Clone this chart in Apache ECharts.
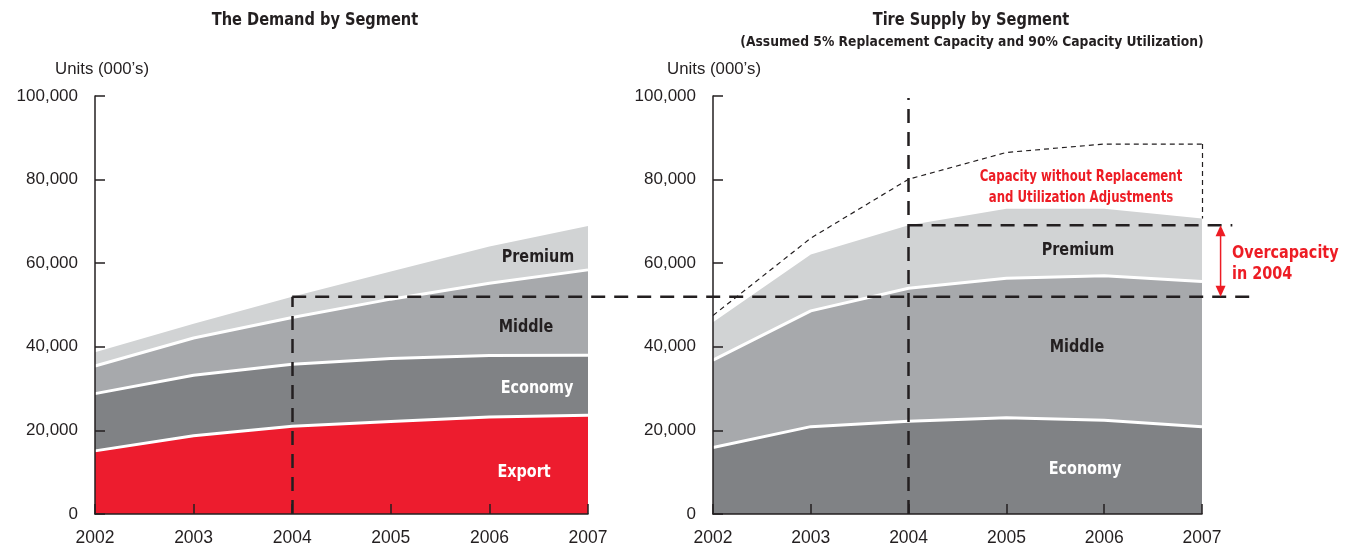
<!DOCTYPE html>
<html><head><meta charset="utf-8">
<script src="https://cdn.jsdelivr.net/npm/echarts@6/dist/echarts.min.js"></script>
<style>html,body{margin:0;padding:0;background:#fff}#c{width:1351px;height:552px}</style>
</head><body><div id="c"></div>
<script>
// ---- data ----
const years = ['2002','2003','2004','2005','2006','2007'];
const yMin = 0, yMax = 100000, yStep = 20000;
// Demand by segment (segment sizes, stacked)
const demandExport  = [15100, 18700, 21000, 22100, 23200, 23600];
const demandEconomy = [13700, 14500, 14800, 15100, 14700, 14400];
const demandMiddle  = [ 6600,  8900, 11200, 14200, 17300, 20400];
const demandPremium = [ 3300,  3400,  5000,  6600,  8800, 10500];
// Supply by segment (segment sizes, stacked)
const supplyEconomy = [15900, 20900, 22200, 23000, 22400, 20900];
const supplyMiddle  = [20900, 27700, 31800, 33400, 34600, 34700];
const supplyPremium = [ 9100, 13500, 15100, 16600, 16000, 15100];
// Capacity without replacement and utilization adjustments
const capacityRaw   = [47500, 66000, 80100, 86500, 88500, 88500];
const refYear = '2004';

const RED = '#ED1C24', DARK = '#231f20';
const C_EXPORT = '#ED1C2E', C_ECON = '#808285', C_MID = '#A7A9AC', C_PREM = '#D1D3D4';
const NARROW = "'DejaVu Sans Condensed','Liberation Sans Narrow',sans-serif";
const REG = "'Liberation Sans',Arial,sans-serif";

const sumAt = (arrs, i) => arrs.reduce((s, a) => s + a[i], 0);
const demandTotal = years.map((_, i) => sumAt([demandExport, demandEconomy, demandMiddle, demandPremium], i));
const supplyTotal = years.map((_, i) => sumAt([supplyEconomy, supplyMiddle, supplyPremium], i));
const refIdx = years.indexOf(refYear);
const demandRef = demandTotal[refIdx];
const supplyRef = supplyTotal[refIdx];
const lastYear = years[years.length - 1];

const chart = echarts.init(document.getElementById('c'));

function yAxis(gi) {
  return {
    type: 'value', gridIndex: gi, min: yMin, max: yMax, interval: yStep, z: 10,
    axisLine: { show: true, lineStyle: { color: DARK, width: 1.5 } },
    axisTick: { show: true, inside: true, length: 10, lineStyle: { color: DARK, width: 1.5 } },
    axisLabel: { color: DARK, fontFamily: REG, fontSize: 17, margin: 17,
      formatter: v => v.toLocaleString('en-US') },
    splitLine: { show: false }
  };
}
function xAxis(gi) {
  return {
    type: 'category', gridIndex: gi, data: years, boundaryGap: false, z: 10,
    axisLine: { show: true, lineStyle: { color: DARK, width: 1.5 } },
    axisTick: { show: true, inside: true, length: 10, alignWithLabel: true, lineStyle: { color: DARK, width: 1.5 } },
    axisLabel: { color: DARK, fontFamily: REG, fontSize: 17.5, margin: 15 }
  };
}
function area(name, data, color, gi, stack, z, line) {
  return {
    name, type: 'line', xAxisIndex: gi, yAxisIndex: gi, stack, data, z,
    symbol: 'none', smooth: false,
    lineStyle: line ? { color: '#fff', width: 3 } : { width: 0 },
    areaStyle: { color, opacity: 1 }
  };
}
const bigDash = { color: DARK, width: 2.5, type: [14, 9] };

chart.setOption({
  animation: false,
  grid: [
    { left: 95, right: 763, top: 96, bottom: 38 },
    { left: 713, right: 149, top: 96, bottom: 38 }
  ],
  xAxis: [xAxis(0), xAxis(1)],
  yAxis: [yAxis(0), yAxis(1)],
  series: [
    Object.assign(area('Export', demandExport, C_EXPORT, 0, 'd', 6, true), {
      markLine: { silent: true, symbol: 'none', label: { show: false }, lineStyle: bigDash, z: 9,
        data: [[{ coord: [refYear, 0] }, { coord: [refYear, demandRef] }]] }
    }),
    area('Economy', demandEconomy, C_ECON, 0, 'd', 5, true),
    area('Middle', demandMiddle, C_MID, 0, 'd', 4, true),
    area('Premium', demandPremium, C_PREM, 0, 'd', 3, false),
    area('Economy', supplyEconomy, C_ECON, 1, 's', 5, true),
    area('Middle', supplyMiddle, C_MID, 1, 's', 4, true),
    Object.assign(area('Premium', supplyPremium, C_PREM, 1, 's', 3, false), {
      markLine: { silent: true, symbol: 'none', label: { show: false }, lineStyle: bigDash, z: 9,
        data: [[{ coord: [refYear, 0] }, { coord: [refYear, 99500] }]] }
    }),
    {
      name: 'Capacity', type: 'line', xAxisIndex: 1, yAxisIndex: 1, data: capacityRaw, z: 7,
      symbol: 'none', lineStyle: { color: DARK, width: 1.2, type: [5, 4] },
      markLine: { silent: true, symbol: 'none', label: { show: false },
        lineStyle: { color: DARK, width: 1.2, type: [5, 4] },
        data: [[{ coord: [lastYear, capacityRaw[capacityRaw.length - 1]] },
                { coord: [lastYear, supplyTotal[supplyTotal.length - 1]] }]] }
    }
  ]
});

// pixel positions from the library's own scales
const pL = chart.convertToPixel({ gridIndex: 0 }, [refYear, demandRef]);
const pR2007 = chart.convertToPixel({ gridIndex: 1 }, [lastYear, demandRef]);
const pR2006 = chart.convertToPixel({ gridIndex: 1 }, [years[years.length - 2], demandRef]);
const step = pR2007[0] - pR2006[0];
const pS = chart.convertToPixel({ gridIndex: 1 }, [refYear, supplyRef]);
const yD = pL[1], yS = pS[1];
const xEndD = pR2007[0] + step * 0.49;
const xEndS = pR2007[0] + step * 0.31;
const xArrow = pR2007[0] + step * 0.19;

function txt(x, y, text, size, color, align, sx, font, weight) {
  return { type: 'text', x, y: y + 2, z: 20, scaleX: sx || 1,
    style: { text, fill: color, font: `${weight || 'bold'} ${size}px ${font || NARROW}`,
      align: align || 'center', verticalAlign: 'middle' } };
}

chart.setOption({
  graphic: [
    txt(315, 18, 'The Demand by Segment', 18, DARK, 'center', 0.9),
    txt(971, 18, 'Tire Supply by Segment', 18, DARK, 'center', 0.9),
    txt(972, 40, '(Assumed 5% Replacement Capacity and 90% Capacity Utilization)', 14, DARK, 'center', 0.98),
    txt(55, 68, 'Units (000’s)', 16, DARK, 'left', 1.05, REG, 'normal'),
    txt(667, 68, 'Units (000’s)', 16, DARK, 'left', 1.05, REG, 'normal'),
    txt(538, 256, 'Premium', 17, DARK, 'center', 0.94),
    txt(526, 326, 'Middle', 17, DARK, 'center', 0.94),
    txt(537, 387, 'Economy', 17, '#fff', 'center', 0.94),
    txt(524, 471, 'Export', 17, '#fff', 'center', 0.94),
    txt(1078, 249, 'Premium', 17, DARK, 'center', 0.94),
    txt(1077, 346, 'Middle', 17, DARK, 'center', 0.94),
    txt(1085, 468, 'Economy', 17, '#fff', 'center', 0.94),
    txt(1081, 175, 'Capacity without Replacement', 15, RED, 'center', 0.87),
    txt(1081, 196, 'and Utilization Adjustments', 15, RED, 'center', 0.87),
    txt(1232, 251, 'Overcapacity', 18, RED, 'left', 0.89),
    txt(1232, 272, 'in 2004', 18, RED, 'left', 0.89),
    { type: 'line', z: 15, shape: { x1: pL[0], y1: yD, x2: xEndD, y2: yD }, style: { stroke: DARK, lineWidth: 2.5, lineDash: [14, 9] } },
    { type: 'line', z: 15, shape: { x1: pS[0], y1: yS, x2: xEndS, y2: yS }, style: { stroke: DARK, lineWidth: 2.5, lineDash: [14, 9] } },
    { type: 'line', z: 16, shape: { x1: xArrow, y1: yS + 6, x2: xArrow, y2: yD - 6 }, style: { stroke: RED, lineWidth: 1.5 } },
    { type: 'polygon', z: 16, shape: { points: [[xArrow, yS], [xArrow - 5, yS + 11], [xArrow + 5, yS + 11]] }, style: { fill: RED } },
    { type: 'polygon', z: 16, shape: { points: [[xArrow, yD], [xArrow - 5, yD - 11], [xArrow + 5, yD - 11]] }, style: { fill: RED } }
  ]
});
</script></body></html>
